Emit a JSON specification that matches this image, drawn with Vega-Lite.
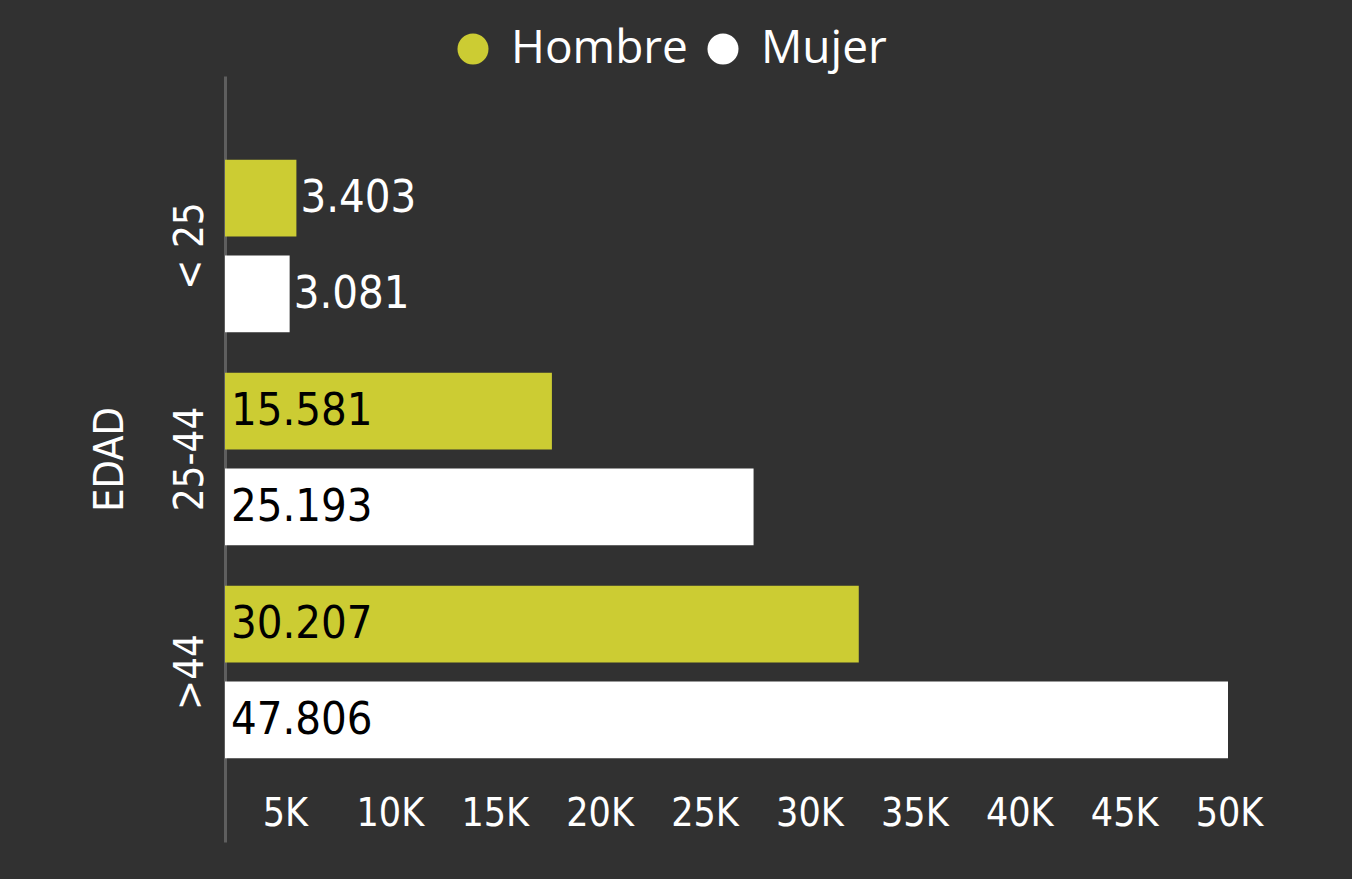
{
  "$schema": "https://vega.github.io/schema/vega-lite/v6.json",
  "width": 1091,
  "height": 766,
  "autosize": "none",
  "padding": {"left": 225, "top": 76, "right": 36, "bottom": 37},
  "background": "#313131",
  "config": {
    "view": {"stroke": null},
    "font": "DejaVu Sans Condensed, Liberation Sans, sans-serif",
    "locale": {"number": {"decimal": ",", "thousands": ".", "grouping": [3], "currency": ["", " €"]}}
  },
  "data": {
    "values": [
      {"EDAD": "< 25", "Sexo": "Hombre", "Valor": 3403},
      {"EDAD": "< 25", "Sexo": "Mujer", "Valor": 3081},
      {"EDAD": "25-44", "Sexo": "Hombre", "Valor": 15581},
      {"EDAD": "25-44", "Sexo": "Mujer", "Valor": 25193},
      {"EDAD": ">44", "Sexo": "Hombre", "Valor": 30207},
      {"EDAD": ">44", "Sexo": "Mujer", "Valor": 47806}
    ]
  },
  "encoding": {
    "y": {
      "field": "EDAD",
      "type": "nominal",
      "sort": ["< 25", "25-44", ">44"],
      "scale": {"paddingInner": 0.19, "paddingOuter": 0.393},
      "axis": {
        "title": "EDAD",
        "titleColor": "white",
        "titleFont": "DejaVu Sans Condensed, Liberation Sans, sans-serif",
        "titleFontSize": 41,
        "titleFontWeight": "normal",
        "titlePadding": 39,
        "labelColor": "white",
        "labelFont": "DejaVu Sans Condensed, Liberation Sans, sans-serif",
        "labelFontSize": 40,
        "labelAngle": -90,
        "labelAlign": "center",
        "labelBaseline": "alphabetic",
        "labelPadding": 23,
        "ticks": false,
        "grid": false,
        "domainColor": "#5e5e5e",
        "domainWidth": 3
      }
    },
    "yOffset": {
      "field": "Sexo",
      "type": "nominal",
      "sort": ["Hombre", "Mujer"],
      "scale": {"paddingInner": 0.2, "paddingOuter": 0}
    }
  },
  "layer": [
    {
      "mark": {"type": "bar"},
      "encoding": {
        "x": {
          "field": "Valor",
          "type": "quantitative",
          "scale": {"domain": [0, 52000], "nice": false},
          "axis": {
            "values": [5000, 10000, 15000, 20000, 25000, 30000, 35000, 40000, 45000, 50000],
            "labelExpr": "(datum.value / 1000) + 'K'",
            "title": null,
            "domain": false,
            "ticks": false,
            "grid": false,
            "labelColor": "white",
            "labelFont": "DejaVu Sans Condensed, Liberation Sans, sans-serif",
            "labelFontSize": 39,
            "labelOffset": -45,
            "labelBaseline": "middle",
            "labelPadding": 0,
            "offset": -29,
            "labelFlush": false
          }
        },
        "color": {
          "field": "Sexo",
          "type": "nominal",
          "scale": {"domain": ["Hombre", "Mujer"], "range": ["#CCCC33", "#FFFFFF"]},
          "legend": {
            "title": null,
            "orient": "none",
            "direction": "horizontal",
            "legendX": 225,
            "legendY": -50,
            "symbolType": "circle",
            "symbolSize": 961,
            "symbolStrokeWidth": 0,
            "symbolOpacity": 1,
            "labelFont": "Open Sans",
            "labelFontSize": 46,
            "labelLimit": 500,
            "labelColor": "white",
            "labelOffset": 15,
            "columnPadding": 12,
            "padding": 0
          }
        }
      }
    },
    {
      "transform": [{"filter": "datum.Valor < 10000"}],
      "mark": {"type": "text", "align": "left", "baseline": "middle", "dx": 4, "fontSize": 45, "color": "white"},
      "encoding": {
        "x": {"field": "Valor", "type": "quantitative"},
        "text": {"field": "Valor", "type": "quantitative", "format": ",d"}
      }
    },
    {
      "transform": [{"filter": "datum.Valor >= 10000"}],
      "mark": {"type": "text", "align": "left", "baseline": "middle", "dx": 6, "fontSize": 45, "color": "black"},
      "encoding": {
        "x": {"datum": 0, "type": "quantitative"},
        "text": {"field": "Valor", "type": "quantitative", "format": ",d"}
      }
    }
  ]
}
